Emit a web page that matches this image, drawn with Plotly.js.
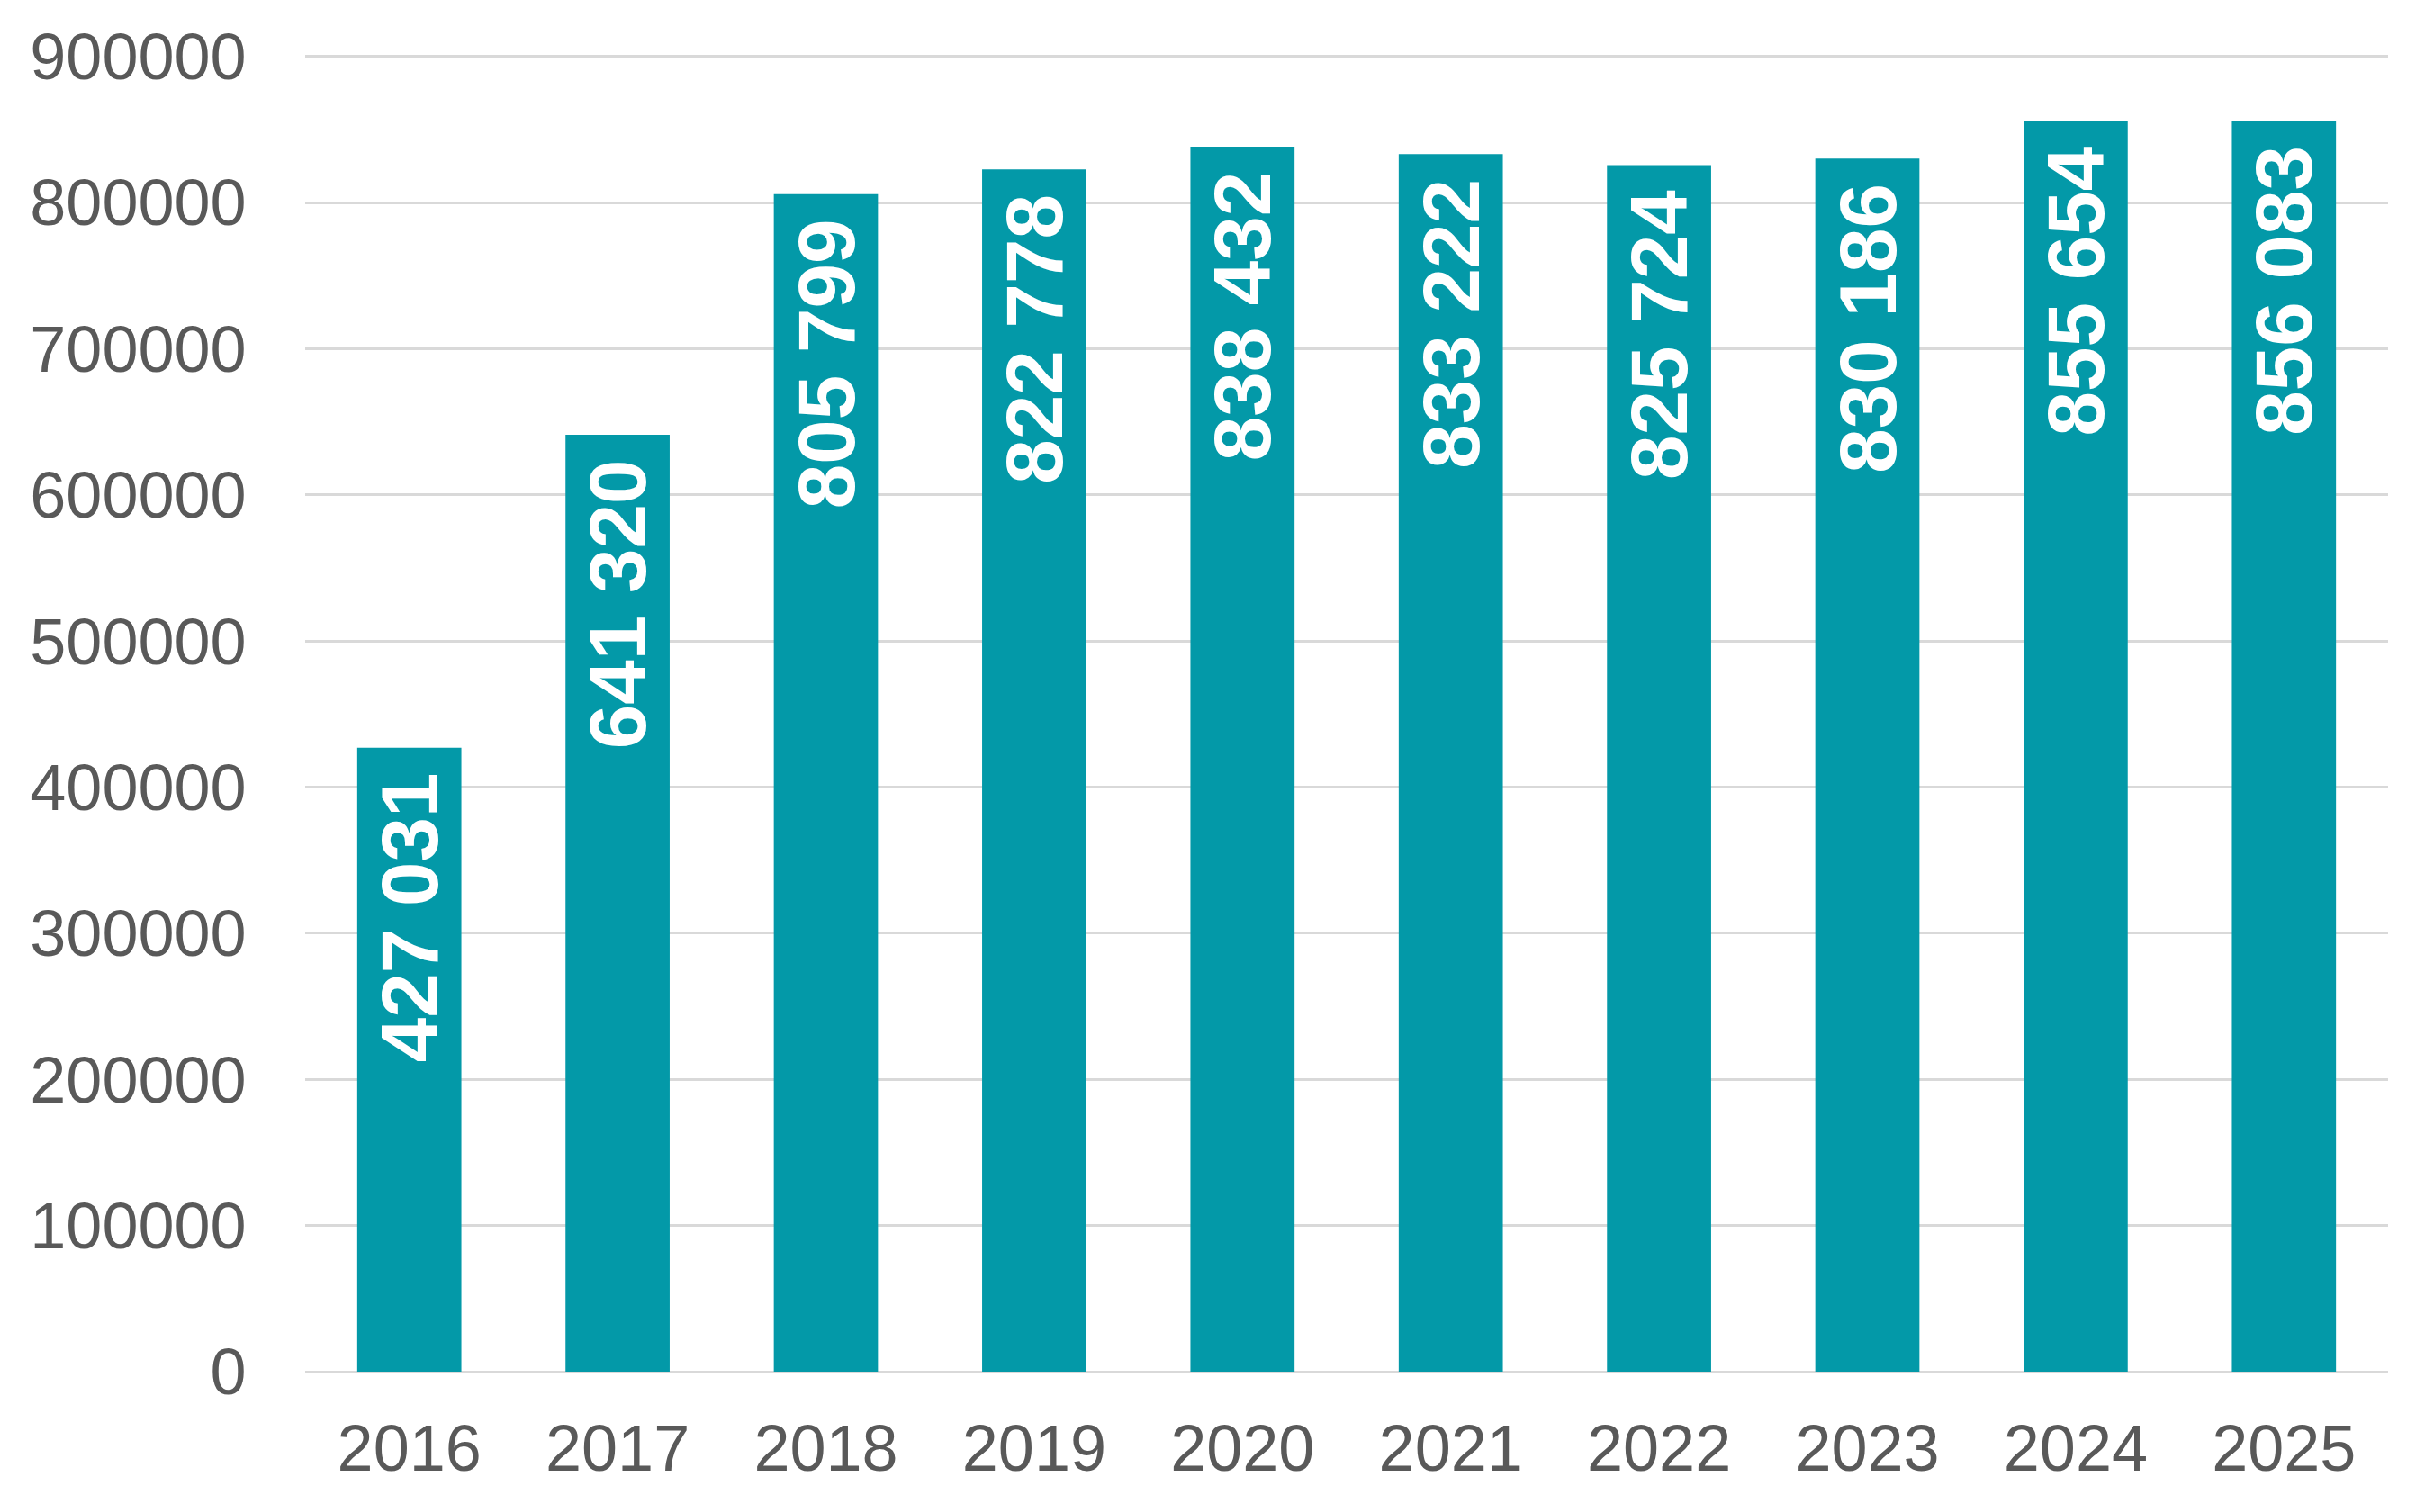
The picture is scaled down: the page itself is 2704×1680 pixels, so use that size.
<!DOCTYPE html>
<html>
<head>
<meta charset="utf-8">
<script src="https://cdn.plot.ly/plotly-3.0.1.min.js"></script>
<style>
html,body{margin:0;padding:0;background:#fff;}
#chart{width:2704px;height:1680px;}
</style>
</head>
<body>
<div id="chart"></div>
<script>
const years = ['2016','2017','2018','2019','2020','2021','2022','2023','2024','2025'];
const values = [427031, 641320, 805799, 822778, 838432, 833222, 825724, 830186, 855654, 856083];
const yTickVals = [0,100000,200000,300000,400000,500000,600000,700000,800000,900000];

function fmt(v){ return String(v).replace(/\B(?=(\d{3})+(?!\d))/g, ' '); }
const labels = values.map(v => fmt(v) + '\u00a0');

const trace = {
  type: 'bar',
  x: years,
  y: values,
  text: labels,
  textposition: 'inside',
  insidetextanchor: 'end',
  textangle: -90,
  textfont: {family: 'Liberation Sans, Arial, sans-serif', size: 89, color: '#ffffff', weight: 'bold'},
  marker: {color: '#0399A8', line: {width: 0}},
  hoverinfo: 'none',
  cliponaxis: false
};

const layout = {
  width: 2704,
  height: 1680,
  margin: {l: 339, r: 51, t: 61, b: 156, pad: 0},
  paper_bgcolor: '#ffffff',
  plot_bgcolor: '#ffffff',
  bargap: 0.5,
  showlegend: false,
  font: {family: 'Liberation Sans, Arial, sans-serif', color: '#595959', size: 72},
  xaxis: {
    type: 'category',
    tickfont: {size: 72, color: '#595959'},
    ticks: 'outside',
    ticklen: 23,
    tickcolor: 'rgba(0,0,0,0)',
    showline: false,
    showgrid: false,
    zeroline: false
  },
  yaxis: {
    range: [0, 901200],
    tickvals: yTickVals,
    tickformat: 'd',
    tickfont: {size: 72, color: '#595959'},
    ticks: 'outside',
    ticklen: 50,
    tickcolor: 'rgba(0,0,0,0)',
    showgrid: true,
    gridcolor: '#D9D9D9',
    gridwidth: 3,
    zeroline: true,
    zerolinecolor: '#D9D9D9',
    zerolinewidth: 3,
    showline: false
  }
};

Plotly.newPlot('chart', [trace], layout, {displayModeBar: false, staticPlot: true});
</script>
</body>
</html>
